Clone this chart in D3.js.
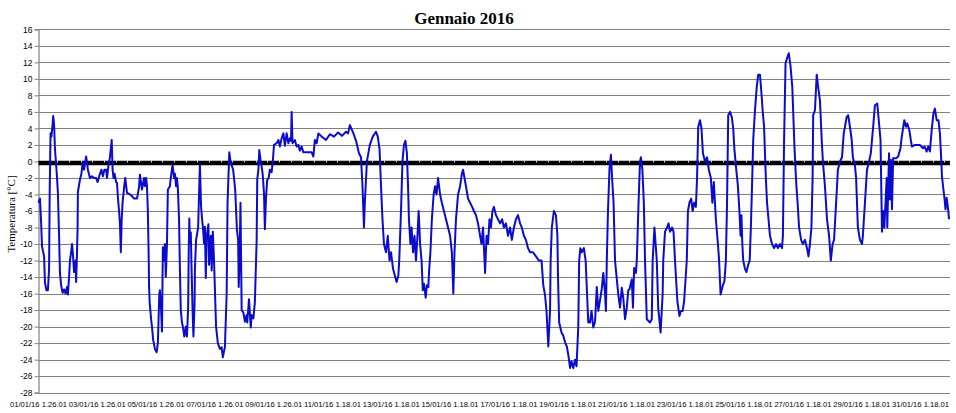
<!DOCTYPE html>
<html><head><meta charset="utf-8">
<script src="https://cdn.jsdelivr.net/npm/d3@7"></script>
<style>html,body{margin:0;padding:0;background:#fff;}svg{display:block;}</style>
</head><body>
<svg id="chart" width="956" height="413"></svg>
<script>
const title = "Gennaio 2016";
const yTitle = "Temperatura [°C]";
const xLabels = ["01/01/16 1.26.01","03/01/16 1.26.01","05/01/16 1.26.01","07/01/16 1.26.01","09/01/16 1.26.01","11/01/16 1.18.01","13/01/16 1.18.01","15/01/16 1.18.01","17/01/16 1.18.01","19/01/16 1.18.01","21/01/16 1.18.01","23/01/16 1.18.01","25/01/16 1.18.01","27/01/16 1.18.01","29/01/16 1.18.01","31/01/16 1.18.01"];
const xLabelDays = [0,2,4,6,8,10,12,14,16,18,20,22,24,26,28,30];
const yTicks = [16,14,12,10,8,6,4,2,0,-2,-4,-6,-8,-10,-12,-14,-16,-18,-20,-22,-24,-26,-28];
// time in days since 01/01/16 1.26.01
const days = [0.00,0.05,0.09,0.12,0.15,0.19,0.22,0.27,0.32,0.36,0.38,0.41,0.44,0.48,0.50,0.53,0.56,0.62,0.66,0.70,0.73,0.77,0.82,0.87,0.92,0.97,1.00,1.04,1.07,1.11,1.14,1.17,1.21,1.26,1.28,1.31,1.33,1.34,1.41,1.46,1.50,1.55,1.62,1.68,1.75,1.82,1.89,1.96,2.01,2.09,2.14,2.19,2.24,2.30,2.33,2.38,2.43,2.49,2.52,2.55,2.59,2.64,2.67,2.70,2.74,2.77,2.80,2.83,2.86,2.91,2.95,3.01,3.11,3.18,3.25,3.35,3.42,3.45,3.52,3.59,3.62,3.66,3.69,3.72,3.75,3.76,3.78,3.83,3.86,3.90,3.96,4.02,4.06,4.11,4.13,4.17,4.20,4.23,4.27,4.30,4.33,4.37,4.40,4.47,4.50,4.56,4.61,4.64,4.68,4.71,4.74,4.78,4.81,4.84,4.88,4.91,4.96,5.01,5.05,5.09,5.11,5.13,5.15,5.18,5.20,5.24,5.27,5.31,5.32,5.36,5.43,5.46,5.49,5.53,5.56,5.60,5.63,5.66,5.69,5.72,5.78,5.80,5.86,5.89,5.93,5.97,6.04,6.10,6.17,6.23,6.27,6.31,6.34,6.40,6.43,6.49,6.53,6.62,6.65,6.69,6.75,6.79,6.81,6.84,6.87,6.91,6.97,7.02,7.08,7.10,7.16,7.22,7.25,7.31,7.36,7.40,7.42,7.44,7.48,7.51,7.56,7.59,7.63,7.67,7.70,7.74,7.78,7.83,7.87,7.93,7.97,8.01,8.10,8.16,8.21,8.27,8.33,8.38,8.44,8.50,8.55,8.59,8.61,8.64,8.72,8.78,8.84,8.89,8.95,9.01,9.12,9.29,9.35,9.40,9.46,9.52,
9.64,9.78,9.91,10.05,10.19,10.32,10.46,10.53,10.59,10.70,10.80,10.90,10.97,11.02,11.07,11.10,11.17,11.27,11.37,11.48,11.54,11.60,11.65,11.70,11.75,11.82,11.88,11.94,11.99,12.06,12.18,12.24,12.27,12.33,12.38,12.43,12.48,12.53,12.57,12.60,12.65,12.69,12.74,12.79,12.84,12.89,12.93,12.98,13.03,13.07,13.11,13.17,13.21,13.26,13.29,13.33,13.38,13.44,13.49,13.54,13.59,13.66,13.72,13.79,13.86,13.93,14.00,14.06,14.11,14.15,14.20,14.27,14.34,14.40,14.44,14.49,14.54,14.61,14.68,14.75,14.81,14.88,14.95,15.02,15.07,15.12,15.19,15.24,15.29,15.34,15.39,15.44,15.49,15.56,15.63,15.70,15.77,15.83,15.90,15.97,16.04,16.10,16.17,16.24,16.31,16.38,16.44,16.51,16.58,16.65,16.72,16.82,16.92,17.02,17.11,17.17,17.23,17.28,17.34,17.40,17.42,17.46,17.53,17.60,17.65,17.67,17.71,17.79,17.85,17.91,17.97,18.02,18.08,18.13,18.19,18.25,18.30,18.36,18.39,18.43,18.48,18.55,18.61,18.70,18.76,18.81,18.87,18.93,18.99,19.04,19.10,19.16,19.21,19.27,19.30,19.33,19.37,19.42,19.47,19.51,19.56,19.61,19.72,19.78,19.84,19.89,19.95,20.01,20.06,20.10,20.18,20.22,20.26,20.32,20.35,20.41,20.46,20.49,20.54,20.59,20.63,20.69,20.80,20.86,20.89,20.95,21.03,21.08,21.16,21.23,21.25,21.31,21.38,21.43,21.48,21.55,21.60,21.65,21.73,21.80,21.85,21.91,21.96,22.01,22.05,22.09,22.14,22.20,22.25,22.30,22.36,22.40,22.44,22.50,22.55,22.60,22.67,22.74,22.80,22.87,22.92,22.97,23.04,23.11,23.15,23.20,23.27,23.33,23.38,23.42,23.46,23.52,23.58,23.63,23.67,23.72,23.79,23.84,23.88,23.91,23.94,23.97,24.03,24.08,24.14,24.19,24.23,24.27,24.31,24.37,24.43,24.48,24.54,24.60,24.63,24.68,24.71,24.74,24.78,24.83,24.88,24.95,25.02,25.09,25.15,25.22,25.29,25.32,25.36,25.41,25.46,25.52,25.58,25.64,25.68,25.71,25.75,25.78,25.82,25.87,25.94,26.00,26.07,26.14,26.19,26.24,26.29,26.33,26.35,26.41,26.47,26.52,26.58,26.64,26.68,26.75,26.82,26.89,26.95,27.01,27.06,27.13,27.19,27.26,27.33,27.36,27.39,27.49,27.54,27.60,27.66,27.70,27.77,27.81,27.84,27.87,27.94,28.01,28.04,28.11,28.18,28.25,28.31,28.35,28.39,28.45,28.53,28.60,28.64,28.69,28.73,28.77,28.85,28.87,28.93,28.96,28.99,29.03,29.07,29.13,29.18,29.24,29.27,29.32,29.35,29.38,29.45,29.51,29.55,29.62,29.67,29.71,29.81,29.91,29.98,30.08,30.14,30.21,30.26,30.32,30.38,30.44,30.49,30.55,30.61,30.66,30.70,30.73,30.78,30.82,30.85,30.89,30.94,30.97];
const temps = [-5.0,-4.5,-7.5,-10.3,-10.8,-11.5,-14.7,-15.6,-15.6,-13,-4,3.4,3.0,4.5,5.5,4.5,1.5,-1.4,-3.8,-9,-13.5,-15,-15.9,-15.5,-16,-15.2,-16.1,-14,-12,-11,-10,-11.2,-13.4,-12,-14.6,-11,-8,-3.7,-2.2,-1.5,-0.2,-1,0.6,-1,-2,-1.8,-2,-2,-2.5,-1.5,-1,-1.8,-1,-1,-2,-0.5,0.5,2.6,-1,-2,-1.5,-2.5,-2.6,-4.3,-6,-7.5,-11,-7,-5,-3.2,-2,-3.8,-4,-4.2,-4.5,-4.5,-3.1,-1.6,-3.4,-2,-3,-2,-3,-6,-12,-15,-17,-19.1,-20,-21.6,-22.7,-23.1,-22,-16,-15.6,-18,-20.6,-10.4,-12,-10,-14,-10,-3.4,-3,-2,-0.4,-2,-1.5,-3,-2,-3.2,-7,-13,-18,-19.5,-20,-21.2,-20,-21.2,-17.7,-10.7,-6.9,-10,-8.6,-12,-18,-21.2,-17,-13,-9.5,-8,-4,-0.4,-5.5,-6.8,-8.3,-9.9,-7.9,-14.1,-9.1,-7.6,-12.5,-9,-13.2,-8.5,-12,-20,-22,-22.7,-22.5,-23.7,-23,-22.5,-16,-5,1.1,0,-1,-2,-3.4,-8.3,-9.5,-15.2,-12,-5,-18,-18.3,-19.4,-18.6,-19.5,-16.7,-20.1,-18.6,-19,-17,-12,-9.5,-2.2,-1,1.4,-0.1,-0.6,-1.7,-3.9,-8.2,-4.3,-2.2,-2,-1,-1.3,0,2,2.2,2.6,1.8,2.8,3.4,1.9,3.4,2.2,2.8,2.5,6.0,2.2,2.6,1.8,2,1.3,1.8,1.1,1.1,1.1,0.6,2.6,2.2,3.4,
3.0,2.6,3.3,3.0,3.5,3.1,3.6,3.4,4.4,3.5,2.5,1,0.5,-3,-8,-5,0,2,3,3.6,3,1.5,-3,-7,-10,-11,-9,-12,-11,-13,-14.6,-13.8,-12,-6,0,2,2.5,1,-3,-7,-10,-8,-11,-9,-12,-9,-6,-10,-12,-15.6,-14.8,-16.5,-15,-15.2,-13,-11,-7,-4,-3,-4,-2,-4,-5,-6,-7,-8,-9,-11,-16,-11,-7,-4,-3,-1.5,-1,-2,-3,-4.5,-5,-5.5,-6,-6.5,-7.5,-9,-10,-8,-13.5,-9,-10,-7,-8,-6,-5.5,-6.5,-7,-7.5,-7,-8,-7.5,-9,-8,-9.5,-8,-7,-6.5,-7.5,-8,-9,-9.5,-10.5,-11,-11,-11.5,-12,-12,-15,-16.2,-18.2,-22.4,-18,-12,-8,-6,-6.5,-9,-14,-19.5,-20.7,-21.1,-21.9,-22.4,-23.4,-25,-24.2,-25,-24,-24.8,-20,-12,-10.5,-11,-10.5,-12,-19.5,-19.5,-18.1,-20.1,-19.4,-15.2,-18.1,-16.8,-15.4,-13.5,-16,-18.1,-12,-6,-1,0.8,-2,-5,-12,-16.1,-17.7,-15.3,-16.5,-19.1,-17.7,-15.6,-15.5,-14.3,-17.7,-12.9,-13.5,-12,-5,0,0.5,-1,-5,-12,-19.1,-19.5,-19.1,-12,-8,-12,-17.8,-20.7,-16,-12,-8.5,-8,-7.5,-8.5,-8,-8.5,-12,-16.9,-18.7,-18.1,-18.1,-16.9,-14.2,-12,-6,-5,-4.5,-6,-5,-5.5,-2,4.2,5,4,1,0,0.5,-1,-2,-5,-2.5,-7,-10,-12,-16.1,-15.1,-14.5,-12,-5,5.6,6,5.4,4,1.5,-0.5,-3,-6,-9,-6.5,-10,-12,-13,-13.4,-12.5,-12,-8,-3,2.6,6.2,9,10.5,10.5,7.8,6.2,4.2,1,-2,-5,-7,-9,-10,-10.5,-10,-10.5,-10,-10.5,-9,2.6,11.9,12.5,13.1,11.5,9,5,2,-1,-3,-5,-8,-9.5,-10,-9.5,-10.5,-11.5,-10,-8,-2,5.6,6.2,10.5,9,7.4,2.6,0,-3,-7,-9,-12,-10,-9.5,-5,-1,0,0.5,2,3.4,5.4,5.6,4.2,2.6,0.5,-0.5,-2,-5,-8,-9.5,-10,-9,-5,-1,0,1,2.6,4.2,6.8,7,4.2,2.6,-8.5,-6,-8,-2,-8,1,-4.6,0.2,-5.8,0.4,0.4,0.4,0.6,1,1.6,2.6,3.4,5,4.2,4.6,3.8,2.6,1.8,2,2,2,1.6,1.8,1.2,1.8,1.2,3.8,5.8,6.4,5,5,3.4,0.6,-1.8,-3.4,-4.6,-5.8,-4.4,-5.8,-7];

const data = days.map((d, i) => ({day: d, t: temps[i]}));

const svg = d3.select("#chart");
const x = d3.scaleLinear().domain([0, 31]).range([38.5, 949.9]);
const y = d3.scaleLinear().domain([-28, 16]).range([392.7, 29.3]);

// grid lines
svg.append("g").selectAll("line").data(yTicks).join("line")
  .attr("x1", x(0)).attr("x2", x(31))
  .attr("y1", d => Math.round(y(d)) + 0.5).attr("y2", d => Math.round(y(d)) + 0.5)
  .attr("stroke", "#808080").attr("stroke-width", 1.2);

// y axis
const yAxis = d3.axisLeft(y).tickValues(yTicks).tickSize(4).tickPadding(2).tickFormat(d3.format("d"));
const ga = svg.append("g").attr("transform", `translate(${x(0)},0)`).call(yAxis);
ga.select(".domain").attr("stroke", "#808080").attr("stroke-width", 1.2);
ga.selectAll(".tick line").attr("stroke", "#808080");
ga.selectAll(".tick text").attr("font-family", "Liberation Sans, Arial, sans-serif").attr("font-size", "8.5px").attr("fill", "#000")
  .text(d => d < 0 ? "-" + Math.abs(d) : d);

// x labels (category axis)
svg.append("g").selectAll("text").data(xLabels).join("text")
  .attr("x", (d, i) => x(xLabelDays[i]))
  .attr("y", 407)
  .attr("text-anchor", "middle")
  .attr("font-family", "Liberation Sans, Arial, sans-serif")
  .attr("font-size", "8px")
  .attr("textLength", 57).attr("lengthAdjust", "spacingAndGlyphs")
  .attr("fill", "#000")
  .text(d => d);

// zero axis (thick black)
const y0 = y(0) + 1.5;
svg.append("line").attr("x1", x(0)).attr("x2", x(31)).attr("y1", y0).attr("y2", y0)
  .attr("stroke", "#000").attr("stroke-width", 4.5);
const minorTicks = d3.range(0, 77).map(k => 0.64 + k * 0.397);
svg.append("g").selectAll("line").data(minorTicks).join("line")
  .attr("x1", d => Math.round(x(d)) + 0.5).attr("x2", d => Math.round(x(d)) + 0.5)
  .attr("y1", y0 - 2.5).attr("y2", y0 - 0.5)
  .attr("stroke", "#e0e0e0").attr("stroke-width", 1);

// series line
const line = d3.line().x(d => x(d.day)).y(d => y(d.t));
svg.append("path").datum(data)
  .attr("d", line)
  .attr("fill", "none")
  .attr("stroke", "#0b0bd0")
  .attr("stroke-width", 2)
  .attr("stroke-linejoin", "round");

// title
svg.append("text").attr("x", 464).attr("y", 24).attr("text-anchor", "middle")
  .attr("font-family", "Liberation Serif, Times New Roman, serif").attr("font-size", "17px").attr("font-weight", "bold")
  .attr("fill", "#000").text(title);

// y title
svg.append("text").attr("transform", "translate(15,214) rotate(-90)").attr("text-anchor", "middle")
  .attr("font-family", "Liberation Serif, Times New Roman, serif").attr("font-size", "11px")
  .attr("fill", "#000").text(yTitle);
</script>
</body></html>
